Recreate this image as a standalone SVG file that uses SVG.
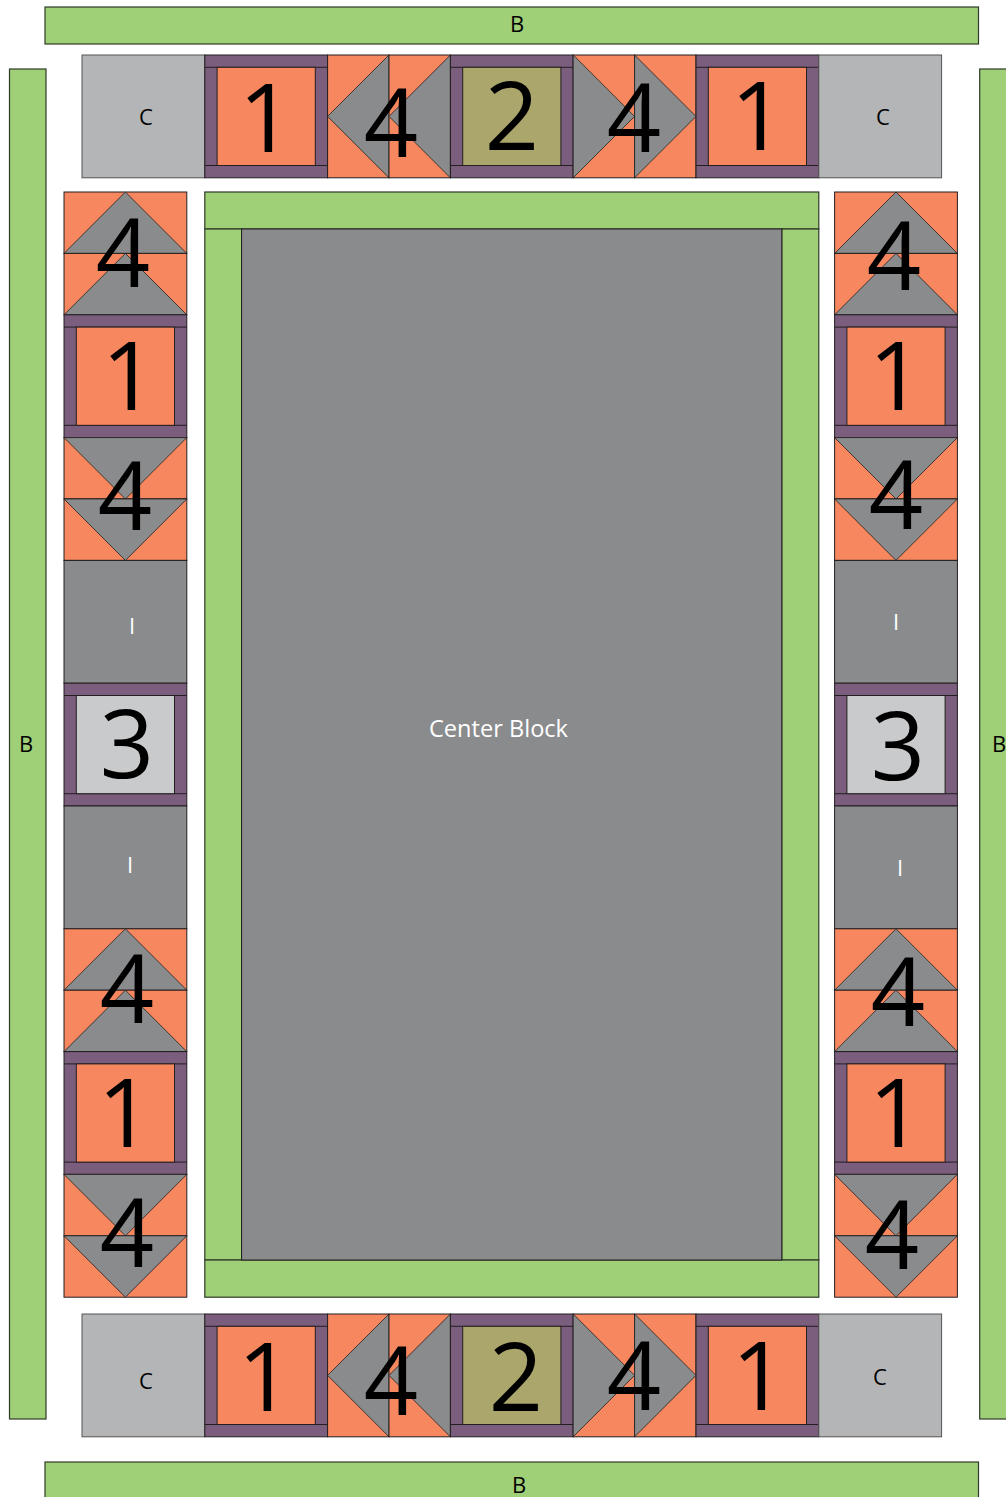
<svg xmlns="http://www.w3.org/2000/svg" xmlns:xlink="http://www.w3.org/1999/xlink" width="1006" height="1497" viewBox="0 0 1006 1497">
<style>
.grn{fill:#9fcf76;stroke:#2f3a28;stroke-width:1.2}
.pur{fill:#7b5d7e;stroke:#231f20;stroke-width:1}
.org{fill:#f7875f;stroke:#231f20;stroke-width:1}
.gry{fill:#8a8b8d;stroke:#231f20;stroke-width:1}
.tri{fill:#8a8b8d;stroke:#231f20;stroke-width:0.8}
.cgr{fill:#b4b5b6;stroke:#555;stroke-width:1}
.olv{fill:#aba66b;stroke:#231f20;stroke-width:1}
.lgr{fill:#c9cacc;stroke:#231f20;stroke-width:1}
.ln{stroke:#231f20;stroke-width:1;fill:none}
.num{font-family:"Open Sans","Liberation Sans",sans-serif;font-size:95px;fill:#000;text-anchor:middle}
.lab{font-family:"Open Sans","Liberation Sans",sans-serif;font-size:22px;fill:#000;text-anchor:middle}
.wlab{font-family:"Open Sans","Liberation Sans",sans-serif;font-size:22px;fill:#fff;text-anchor:middle}
.ctr{font-family:"Open Sans","Liberation Sans",sans-serif;font-size:24px;fill:#fff;text-anchor:middle}
</style>
<defs>
<g id="f1">
<rect class="pur" x="0" y="0" width="122.8" height="122.8"/>
<line class="ln" x1="0" y1="12.3" x2="122.8" y2="12.3"/>
<line class="ln" x1="0" y1="110.5" x2="122.8" y2="110.5"/>
<rect class="org" x="12.3" y="12.3" width="98.2" height="98.2"/>
</g>
<g id="f2">
<rect class="pur" x="0" y="0" width="122.8" height="122.8"/>
<line class="ln" x1="0" y1="12.3" x2="122.8" y2="12.3"/>
<line class="ln" x1="0" y1="110.5" x2="122.8" y2="110.5"/>
<rect class="olv" x="12.3" y="12.3" width="98.2" height="98.2"/>
</g>
<g id="f3">
<rect class="pur" x="0" y="0" width="122.8" height="122.8"/>
<line class="ln" x1="0" y1="12.3" x2="122.8" y2="12.3"/>
<line class="ln" x1="0" y1="110.5" x2="122.8" y2="110.5"/>
<rect class="lgr" x="12.3" y="12.3" width="98.2" height="98.2"/>
</g>
<g id="hL">
<rect class="org" x="0" y="0" width="61.4" height="122.8"/>
<polygon class="tri" points="61.4,0 61.4,122.8 0,61.4"/>
</g>
<g id="hR">
<rect class="org" x="0" y="0" width="61.4" height="122.8"/>
<polygon class="tri" points="0,0 0,122.8 61.4,61.4"/>
</g>
<g id="hU">
<rect class="org" x="0" y="0" width="122.8" height="61.4"/>
<polygon class="tri" points="61.4,0 122.8,61.4 0,61.4"/>
</g>
<g id="hD">
<rect class="org" x="0" y="0" width="122.8" height="61.4"/>
<polygon class="tri" points="0,0 122.8,0 61.4,61.4"/>
</g>
<rect id="sqC" class="cgr" x="0" y="0" width="122.8" height="122.8"/>
<rect id="sqI" class="gry" x="0" y="0" width="122.8" height="122.8"/>
</defs>

<g id="border-top"><rect class="grn" x="45" y="7" width="933.5" height="37"/><text class="lab" x="517" y="32">B</text></g>
<g id="border-bottom"><rect class="grn" x="45" y="1462" width="933.5" height="40"/><text class="lab" x="519" y="1493">B</text></g>
<g id="border-left"><rect class="grn" x="9.5" y="69" width="36.5" height="1350"/><text class="lab" x="26" y="752">B</text></g>
<g id="border-right"><rect class="grn" x="979.7" y="69" width="40" height="1350"/><text class="lab" x="999" y="752">B</text></g>

<g id="center-frame">
<rect class="grn" x="204.8" y="192" width="614" height="37"/>
<rect class="grn" x="204.8" y="229" width="36.8" height="1031"/>
<rect class="grn" x="781.8" y="229" width="37" height="1031"/>
<rect class="grn" x="204.8" y="1260" width="614" height="37.2"/>
</g>
<g id="center-block"><rect class="gry" x="241.6" y="229" width="540.2" height="1031"/><text class="ctr" x="498.5" y="737" textLength="139" lengthAdjust="spacingAndGlyphs">Center Block</text></g>

<!-- top row -->
<g id="top-c1"><use xlink:href="#sqC" x="82" y="55"/><text class="lab" x="146" y="125">C</text></g>
<g id="top-1a"><use xlink:href="#f1" x="204.8" y="55"/><text class="num" x="266" y="152">1</text></g>
<g id="top-4a"><use xlink:href="#hL" x="327.6" y="55"/><use xlink:href="#hL" x="389" y="55"/><text class="num" x="391" y="157">4</text></g>
<g id="top-2"><use xlink:href="#f2" x="450.4" y="55"/><text class="num" x="512" y="150">2</text></g>
<g id="top-4b"><use xlink:href="#hR" x="573.2" y="55"/><use xlink:href="#hR" x="634.6" y="55"/><text class="num" x="634" y="152">4</text></g>
<g id="top-1b"><use xlink:href="#f1" x="696" y="55"/><text class="num" x="758" y="150">1</text></g>
<g id="top-c2"><use xlink:href="#sqC" x="818.8" y="55"/><text class="lab" x="883" y="125">C</text></g>

<!-- bottom row -->
<g id="bot-c1"><use xlink:href="#sqC" x="82" y="1314"/><text class="lab" x="146" y="1389">C</text></g>
<g id="bot-1a"><use xlink:href="#f1" x="204.8" y="1314"/><text class="num" x="265" y="1411">1</text></g>
<g id="bot-4a"><use xlink:href="#hL" x="327.6" y="1314"/><use xlink:href="#hL" x="389" y="1314"/><text class="num" x="391" y="1415">4</text></g>
<g id="bot-2"><use xlink:href="#f2" x="450.4" y="1314"/><text class="num" x="516" y="1411">2</text></g>
<g id="bot-4b"><use xlink:href="#hR" x="573.2" y="1314"/><use xlink:href="#hR" x="634.6" y="1314"/><text class="num" x="634" y="1410">4</text></g>
<g id="bot-1b"><use xlink:href="#f1" x="696" y="1314"/><text class="num" x="759" y="1410">1</text></g>
<g id="bot-c2"><use xlink:href="#sqC" x="818.8" y="1314"/><text class="lab" x="880" y="1385">C</text></g>

<!-- left column -->
<g id="left-4a"><use xlink:href="#hU" x="64" y="192"/><use xlink:href="#hU" x="64" y="253.4"/><text class="num" x="123" y="287">4</text></g>
<g id="left-1a"><use xlink:href="#f1" x="64" y="314.8"/><text class="num" x="129" y="410">1</text></g>
<g id="left-4b"><use xlink:href="#hD" x="64" y="437.6"/><use xlink:href="#hD" x="64" y="499"/><text class="num" x="125" y="530">4</text></g>
<g id="left-i1"><use xlink:href="#sqI" x="64" y="560.4"/><text class="wlab" x="132" y="634">I</text></g>
<g id="left-3"><use xlink:href="#f3" x="64" y="683.2"/><text class="num" x="127" y="778">3</text></g>
<g id="left-i2"><use xlink:href="#sqI" x="64" y="806"/><text class="wlab" x="130" y="873">I</text></g>
<g id="left-4c"><use xlink:href="#hU" x="64" y="928.8"/><use xlink:href="#hU" x="64" y="990.2"/><text class="num" x="127" y="1023">4</text></g>
<g id="left-1b"><use xlink:href="#f1" x="64" y="1051.6"/><text class="num" x="125" y="1147">1</text></g>
<g id="left-4d"><use xlink:href="#hD" x="64" y="1174.4"/><use xlink:href="#hD" x="64" y="1235.8"/><text class="num" x="127" y="1267">4</text></g>

<!-- right column -->
<g id="right-4a"><use xlink:href="#hU" x="834.6" y="192"/><use xlink:href="#hU" x="834.6" y="253.4"/><text class="num" x="894" y="290">4</text></g>
<g id="right-1a"><use xlink:href="#f1" x="834.6" y="314.8"/><text class="num" x="896" y="410">1</text></g>
<g id="right-4b"><use xlink:href="#hD" x="834.6" y="437.6"/><use xlink:href="#hD" x="834.6" y="499"/><text class="num" x="896" y="529">4</text></g>
<g id="right-i1"><use xlink:href="#sqI" x="834.6" y="560.4"/><text class="wlab" x="896" y="630">I</text></g>
<g id="right-3"><use xlink:href="#f3" x="834.6" y="683.2"/><text class="num" x="898" y="780">3</text></g>
<g id="right-i2"><use xlink:href="#sqI" x="834.6" y="806"/><text class="wlab" x="900" y="876">I</text></g>
<g id="right-4c"><use xlink:href="#hU" x="834.6" y="928.8"/><use xlink:href="#hU" x="834.6" y="990.2"/><text class="num" x="898" y="1026">4</text></g>
<g id="right-1b"><use xlink:href="#f1" x="834.6" y="1051.6"/><text class="num" x="896" y="1147">1</text></g>
<g id="right-4d"><use xlink:href="#hD" x="834.6" y="1174.4"/><use xlink:href="#hD" x="834.6" y="1235.8"/><text class="num" x="892" y="1269">4</text></g>

<g id="connectors"/>
</svg>
